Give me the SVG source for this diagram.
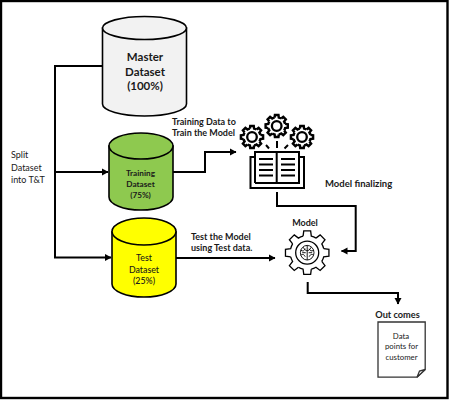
<svg xmlns="http://www.w3.org/2000/svg" xmlns:xlink="http://www.w3.org/1999/xlink" width="449" height="400" viewBox="0 0 449 400">
<style>
text{font-family:"Lato","Open Sans","Liberation Sans",sans-serif;fill:#1a1a1a}
.b{font-weight:700}
.m{text-anchor:middle}
.cyl{stroke:#000;stroke-width:1.6}
.conn{fill:none;stroke:#000;stroke-width:2}
.icon{fill:none;stroke:#000}
</style>
<defs>
<marker id="arr" markerUnits="userSpaceOnUse" markerWidth="8" markerHeight="8" refX="6" refY="4" orient="auto"><path d="M0 0.5L6.5 4L0 7.5z" fill="#000"/></marker>
<path id="tooth" class="icon" d="M16.5-4.11L21.73-3.44L21.73 3.44L16.5 4.11A17 17 0 0 1 14.57 8.76"/>
<g id="teeth">
<use xlink:href="#tooth" href="#tooth" transform="rotate(0)"/>
<use xlink:href="#tooth" href="#tooth" transform="rotate(45)"/>
<use xlink:href="#tooth" href="#tooth" transform="rotate(90)"/>
<use xlink:href="#tooth" href="#tooth" transform="rotate(135)"/>
<use xlink:href="#tooth" href="#tooth" transform="rotate(180)"/>
<use xlink:href="#tooth" href="#tooth" transform="rotate(225)"/>
<use xlink:href="#tooth" href="#tooth" transform="rotate(270)"/>
<use xlink:href="#tooth" href="#tooth" transform="rotate(315)"/>
</g>
<g id="gs">
<use xlink:href="#teeth" href="#teeth" transform="scale(0.51)" stroke-width="4.800"/>
<circle r="4.800" class="icon" stroke-width="2.300"/>
</g>
</defs>
<rect id="frame" x="1" y="1" width="446.5" height="397" fill="#fff" stroke="#000" stroke-width="2.4"/>
<g id="connectors">
<path class="conn" d="M102 66H55V257.5H111" marker-end="url(#arr)"/>
<path class="conn" d="M55 172H108" marker-end="url(#arr)"/>
<path class="conn" d="M173 172H205V152H236" marker-end="url(#arr)"/>
<path class="conn" d="M176 258H275" marker-end="url(#arr)"/>
<path class="conn" d="M277 192V206H355.7V251H341.5" marker-end="url(#arr)"/>
<path class="conn" d="M307.7 282V293H398V304" marker-end="url(#arr)"/>
</g>
<g id="master">
<path class="cyl" fill="#f2f2f2" d="M102.5 28V104A42 12 0 0 0 186.500 104V28z"/>
<ellipse class="cyl" cx="144.500" cy="28" rx="42" ry="11.500" fill="#f2f2f2"/>
<g class="b m" font-size="11.500"><text x="145" y="61">Master</text><text x="145" y="75.500">Dataset</text><text x="145" y="90">(100%)</text></g>
</g>
<g id="training">
<path class="cyl" fill="#8ec94f" d="M109 146V197A32 13 0 0 0 173 197V146z"/>
<ellipse class="cyl" cx="141" cy="146" rx="32" ry="13" fill="#8ec94f"/>
<g class="b m" font-size="8.200"><text x="140.500" y="176">Training</text><text x="140.500" y="187">Dataset</text><text x="140.500" y="198">(75%)</text></g>
</g>
<g id="test">
<path class="cyl" fill="#ffff00" d="M112 232V284A32 13 0 0 0 176 284V232z"/>
<ellipse class="cyl" cx="144" cy="231.500" rx="32" ry="13.500" fill="#ffff00"/>
<g class="m" font-size="8.800" font-weight="500"><text x="144" y="261">Test</text><text x="144" y="272.500">Dataset</text><text x="144" y="283.500">(25%)</text></g>
</g>
<g id="split-label" font-size="9"><text x="11" y="158">Split</text><text x="11" y="170.500">Dataset</text><text x="11" y="183">into T&amp;T</text></g>
<g id="train-label" class="b" font-size="9"><text x="172" y="125">Training Data to</text><text x="172" y="136">Train the Model</text></g>
<g id="test-label" class="b" font-size="9"><text x="191" y="239.500">Test the Model</text><text x="191" y="250.500">using Test data.</text></g>
<g id="training-icon">
<use xlink:href="#gs" href="#gs" x="276.700" y="126"/>
<use xlink:href="#gs" href="#gs" x="252" y="137"/>
<use xlink:href="#gs" href="#gs" x="302" y="137"/>
<g class="icon" stroke-width="2">
<path d="M277 141V148M266 145L269 148.500M288 145L284.500 148.500"/>
<path d="M255 157H250.500V188H304V157H299.500"/>
<path d="M255 183V152H276.700V183M276.700 152H299V183H255"/>
<path d="M259 159H273M259 164.500H273M259 170H273M259 175.500H273M281 159H295M281 164.500H295M281 170H295M281 175.500H295"/>
</g>
</g>
<g id="model-finalizing-label"><text class="b" x="325" y="187" font-size="9.500">Model finalizing</text></g>
<g id="model-label"><text class="b m" x="305" y="226" font-size="9">Model</text></g>
<g id="model-gear" transform="translate(307.200 252.700)">
<use xlink:href="#teeth" href="#teeth" stroke-width="1.300"/>
<circle r="11.500" class="icon" stroke-width="1.300"/>
<g class="icon" stroke-width="0.900">
<ellipse rx="6.800" ry="7.300"/>
<path d="M0-7.300V7.300M-6.500-2.500C-4-1-3-2-2-4M-6.500 2.500C-4 1-3 2-2 4M6.500-2.500C4-1 3-2 2-4M6.500 2.500C4 1 3 2 2 4M-4-5.500C-3-3-1-2 0-2M4-5.500C3-3 1-2 0-2M-5 0H-1.500M5 0H1.500"/>
</g>
</g>
<g id="outcomes">
<text class="b m" x="397.500" y="317.500" font-size="9.200">Out comes</text>
<path fill="#fff" stroke="#333" stroke-width="1.300" d="M378 322H425.200V369.500L417 377.200H378z"/>
<path fill="#fff" stroke="#333" stroke-width="1.300" d="M425.200 369.500L419.500 371L417 377.200z"/>
<g class="m" font-size="7.800"><text x="401" y="338.500">Data</text><text x="401.500" y="349">points for</text><text x="401.500" y="359.500">customer</text></g>
</g>
</svg>
